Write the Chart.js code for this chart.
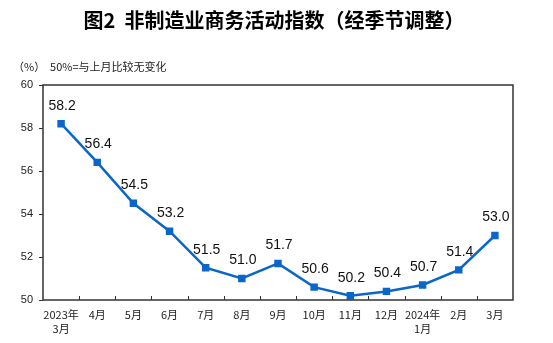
<!DOCTYPE html>
<html>
<head>
<meta charset="utf-8">
<script src="https://cdn.jsdelivr.net/npm/chart.js@4"></script>
<style>
  body { margin: 0; background: #fff; }
  #wrap { width: 553px; height: 343px; position: relative; }
</style>
</head>
<body>
<div id="wrap"><canvas id="myChart"></canvas></div>
<script>
const months = [['2023年', '3月'], '4月', '5月', '6月', '7月', '8月', '9月', '10月', '11月', '12月', ['2024年', '1月'], '2月', '3月'];
const index = [58.2, 56.4, 54.5, 53.2, 51.5, 51.0, 51.7, 50.6, 50.2, 50.4, 50.7, 51.4, 53.0];
const yTicks = [50, 52, 54, 56, 58, 60];

const titleText = '图2  非制造业商务活动指数（经季节调整）';
const noteText = '（%）  50%=与上月比较无变化';

const lineColor = '#0a66c8';

// title, note, box, inner x ticks and value labels
const extras = {
  id: 'extras',
  afterDraw(chart) {
    const ctx = chart.ctx;
    const area = chart.chartArea;
    const x = chart.scales.x;
    ctx.save();

    ctx.fillStyle = '#000';
    ctx.font = 'bold 20px "Noto Sans CJK SC"';
    ctx.textAlign = 'center';
    ctx.textBaseline = 'middle';
    ctx.fillText(titleText, 274, 20);

    ctx.fillStyle = '#222';
    ctx.font = '11px "Noto Sans CJK SC"';
    ctx.textAlign = 'left';
    ctx.fillText(noteText, 13, 67);

    ctx.strokeStyle = '#333';
    ctx.lineWidth = 1.5;
    ctx.strokeRect(area.left, area.top, area.right - area.left, area.bottom - area.top);

    ctx.lineWidth = 1;
    for (let i = 1; i < months.length; i++) {
      const px = Math.round((x.getPixelForValue(i - 1) + x.getPixelForValue(i)) / 2) + 0.5;
      ctx.beginPath();
      ctx.moveTo(px, area.bottom);
      ctx.lineTo(px, area.bottom - 4);
      ctx.stroke();
    }

    ctx.fillStyle = '#111';
    ctx.font = '14px "Liberation Sans", Arial';
    ctx.textAlign = 'center';
    ctx.textBaseline = 'middle';
    chart.getDatasetMeta(0).data.forEach((pt, i) => {
      ctx.fillText(index[i].toFixed(1), pt.x + 1, pt.y - 18);
    });
    ctx.restore();
  }
};

const myChart = new Chart(document.getElementById('myChart'), {
  type: 'line',
  data: {
    labels: months,
    datasets: [{
      data: index,
      borderColor: lineColor,
      backgroundColor: lineColor,
      borderWidth: 2.5,
      pointStyle: 'rect',
      pointRadius: 3.5,
      pointHoverRadius: 3.5,
      tension: 0
    }]
  },
  options: {
    responsive: true,
    maintainAspectRatio: false,
    animation: false,
    layout: { padding: { left: 0, top: 85, right: 40, bottom: 0 } },
    plugins: { legend: { display: false }, tooltip: { enabled: false } },
    scales: {
      x: {
        offset: true,
        grid: { display: false, drawTicks: false },
        border: { display: false },
        ticks: {
          padding: 8,
          color: '#222',
          maxRotation: 0,
          autoSkip: false,
          font: { family: '"Noto Sans CJK SC"', size: 11, lineHeight: 1.27 }
        },
        afterFit(scale) { scale.height = 43; }
      },
      y: {
        min: 50,
        max: 60,
        afterBuildTicks(scale) { scale.ticks = yTicks.map(v => ({ value: v })); },
        grid: { drawOnChartArea: false, tickLength: 4, color: '#333' },
        border: { display: false },
        ticks: {
          padding: 6,
          color: '#222',
          font: { family: '"Liberation Sans", Arial', size: 11 }
        },
        afterFit(scale) { scale.width = 43; }
      }
    }
  },
  plugins: [extras]
});
</script>
</body>
</html>
